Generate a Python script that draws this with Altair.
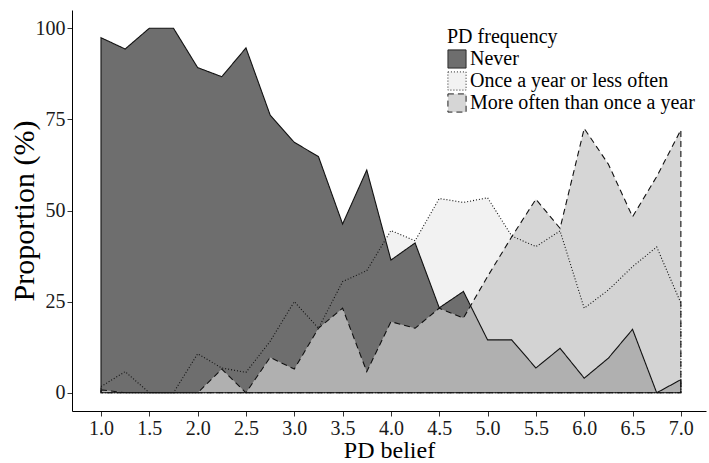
import altair as alt
import pandas as pd

pd_belief = [1.0, 1.25, 1.5, 1.75, 2.0, 2.25, 2.5, 2.75, 3.0, 3.25, 3.5, 3.75,
             4.0, 4.25, 4.5, 4.75, 5.0, 5.25, 5.5, 5.75, 6.0, 6.25, 6.5, 6.75, 7.0]
never = [97.4, 94.3, 100.0, 100.0, 89.2, 86.7, 94.6, 76.2, 68.7, 64.8, 46.3, 61.1,
         36.4, 41.1, 23.3, 27.8, 14.5, 14.5, 6.8, 12.2, 4.0, 9.5, 17.4, 0.0, 3.6]
once = [1.7, 5.8, 0.0, 0.0, 10.7, 6.8, 5.6, 14.1, 25.0, 17.7, 30.5, 33.5,
        44.5, 41.7, 53.3, 52.2, 53.5, 43.0, 40.1, 44.4, 23.2, 28.2, 34.6, 40.0, 24.6]
more = [0.8, 0.0, 0.0, 0.0, 0.0, 6.5, 0.0, 9.7, 6.5, 17.7, 23.2, 5.8,
        19.5, 17.7, 23.2, 20.5, 31.9, 42.8, 53.1, 45.1, 72.5, 62.7, 48.3, 59.3, 72.1]

series_names = ["Never", "Once a year or less often", "More often than once a year"]
fill_colors = ["#6e6e6e", "#f2f2f2", "rgba(200,200,200,0.74)"]
dash_styles = [[1, 0], [1, 2], [6, 4]]
x_ticks = [1.0, 1.5, 2.0, 2.5, 3.0, 3.5, 4.0, 4.5, 5.0, 5.5, 6.0, 6.5, 7.0]
y_ticks = [0, 25, 50, 75, 100]

rows = []
for name, vals in zip(series_names, [never, once, more]):
    for xv, v in zip(pd_belief, vals):
        rows.append({"belief": xv, "prop": v, "freq": name})
df = pd.DataFrame(rows)

FONT = "Liberation Serif"

x_enc = alt.X(
    "belief:Q",
    scale=alt.Scale(domain=[0.7, 7.26], nice=False, zero=False),
    axis=alt.Axis(values=x_ticks, format=".1f", title="PD belief"),
)
y_enc = alt.Y(
    "prop:Q",
    scale=alt.Scale(domain=[-5, 105], nice=False, zero=False),
    axis=alt.Axis(values=y_ticks, title="Proportion (%)"),
)

dash_expr = (
    f"datum.value === '{series_names[1]}' ? {dash_styles[1]} : "
    f"(datum.value === '{series_names[2]}' ? {dash_styles[2]} : {dash_styles[0]})"
)
legend_def = alt.Legend(
    orient="none", legendX=375, legendY=17,
    symbolDash=alt.ExprRef(expr=dash_expr),
)
fill_enc = alt.Fill(
    "freq:N",
    scale=alt.Scale(domain=series_names, range=fill_colors),
    title="PD frequency",
    legend=legend_def,
)

layers = []
for name in ["Once a year or less often", "Never", "More often than once a year"]:
    layers.append(
        alt.Chart(df).transform_filter(alt.datum.freq == name)
        .mark_area(strokeWidth=0)
        .encode(x=x_enc, y=y_enc, fill=fill_enc)
    )
for name in ["Once a year or less often", "More often than once a year", "Never"]:
    dash = dash_styles[series_names.index(name)]
    layers.append(
        alt.Chart(df).transform_filter(alt.datum.freq == name)
        .mark_area(fill="transparent", stroke="#111111", strokeWidth=1.1, strokeDash=dash)
        .encode(x=x_enc, y=y_enc)
    )

chart = alt.layer(*layers).properties(
    width=634, height=401,
    autosize=alt.AutoSizeParams(type="none"),
    padding={"left": 72, "top": 10, "right": 3, "bottom": 52},
).configure_view(stroke=None).configure_axis(
    grid=False,
    domainColor="#000000", domainWidth=1,
    tickColor="#333333", tickSize=5, tickWidth=1,
    labelFont=FONT, labelFontSize=20, labelColor="#1a1a1a", labelPadding=2,
    titleFont=FONT, titleFontWeight="normal", titleColor="#000000",
).configure_axisX(
    titleFontSize=24, titlePadding=0, labelPadding=2,
).configure_axisY(
    titleFontSize=30, titlePadding=-4,
).configure_legend(
    symbolType="square", symbolSize=330,
    symbolStrokeColor="#222222", symbolStrokeWidth=1, symbolOpacity=1,
    rowPadding=-2, titlePadding=2,
    labelFont=FONT, labelFontSize=20, labelColor="#000000", labelOffset=3,
    titleFont=FONT, titleFontSize=20, titleFontWeight="normal", titleColor="#000000",
    titleLimit=400, labelLimit=400,
)

chart.save("out.html", embed_options={"renderer": "svg", "actions": False})
